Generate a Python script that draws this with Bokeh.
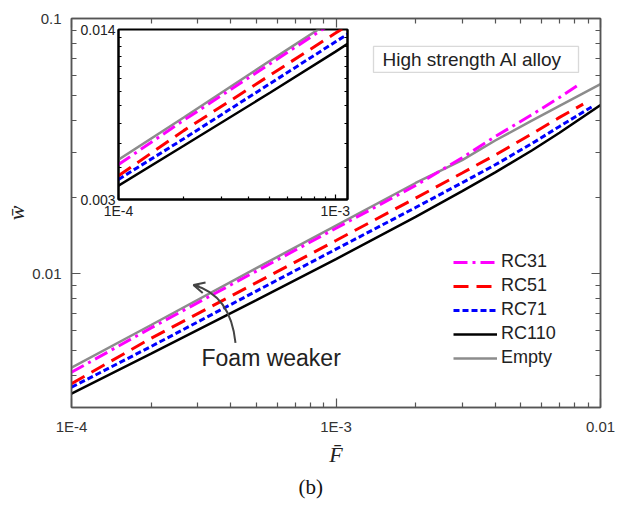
from bokeh.plotting import figure
from bokeh.models import (FixedTicker, LogAxis, Legend, LegendItem, Label, Title,
                          Arrow, OpenHead, Range1d, BoxAnnotation)
from bokeh.layouts import column
from bokeh.embed import file_html
from bokeh.resources import INLINE

# ---------------- data ----------------
rc31_F = [1e-4, 2e-4, 5e-4, 1e-3, 2e-3, 3e-3, 4e-3, 5.5e-3, 7e-3, 8.3e-3]
rc31_w = [0.00412, 0.00615, 0.01026, 0.0151, 0.0222, 0.0285, 0.0345, 0.0420, 0.0491, 0.0552]
rc51_F = [1e-4, 2e-4, 5e-4, 1e-3, 2e-3, 3e-3, 4e-3, 5.5e-3, 7e-3, 8.6e-3]
rc51_w = [0.00372, 0.0056, 0.00925, 0.01352, 0.0198, 0.02485, 0.0292, 0.03535, 0.0410, 0.0462]
rc71_F = [1e-4, 2e-4, 5e-4, 1e-3, 2e-3, 3e-3, 4e-3, 5.5e-3, 7e-3, 9.3e-3]
rc71_w = [0.0036, 0.0052, 0.00857, 0.0125, 0.0182, 0.02276, 0.02675, 0.03237, 0.0378, 0.0452]
rc110_F = [1e-4, 2e-4, 5e-4, 1e-3, 2e-3, 3e-3, 4e-3, 5.5e-3, 7e-3, 1e-2]
rc110_w = [0.0034, 0.00488, 0.00789, 0.01143, 0.01674, 0.02108, 0.02498, 0.03043, 0.03569, 0.0458]
empty_F = [1e-4, 2e-4, 5e-4, 1e-3, 2e-3, 3e-3, 4e-3, 5.5e-3, 7e-3, 1e-2]
empty_w = [0.0043, 0.00631, 0.01054, 0.01547, 0.0227, 0.0279, 0.0333, 0.0398, 0.0455, 0.0554]

series_names = ["RC31", "RC51", "RC71", "RC110", "Empty"]

x_major = [1e-4, 1e-3, 1e-2]
x_major_labels = ["1E-4", "1E-3", "0.01"]
x_minor = [2e-4, 3e-4, 4e-4, 5e-4, 6e-4, 7e-4, 8e-4, 9e-4,
           2e-3, 3e-3, 4e-3, 5e-3, 6e-3, 7e-3, 8e-3, 9e-3]
y_major = [0.01, 0.1]
y_major_labels = ["0.01", "0.1"]
y_minor = [0.004, 0.005, 0.006, 0.007, 0.008, 0.009,
           0.02, 0.03, 0.04, 0.05, 0.06, 0.07, 0.08, 0.09]

inset_x_major = [1e-4, 1e-3]
inset_x_labels = ["1E-4", "1E-3"]
inset_x_minor = [2e-4, 3e-4, 4e-4, 5e-4, 6e-4, 7e-4, 8e-4, 9e-4]
inset_y_major = [0.003, 0.014]
inset_y_labels = ["0.003", "0.014"]
inset_y_minor = [0.004, 0.005, 0.006, 0.007, 0.008, 0.009, 0.010, 0.011, 0.012, 0.013]

# ---------------- styles ----------------
styles = {
    "RC31": dict(line_color="#FF00FF", line_width=3, line_dash="14 5 3 5"),
    "RC51": dict(line_color="#FF0000", line_width=3, line_dash="15 8"),
    "RC71": dict(line_color="#0000FF", line_width=3, line_dash="6 3"),
    "RC110": dict(line_color="#000000", line_width=2.5),
    "Empty": dict(line_color="#8C8C8C", line_width=2.5),
}
data = {
    "RC31": (rc31_F, rc31_w), "RC51": (rc51_F, rc51_w), "RC71": (rc71_F, rc71_w),
    "RC110": (rc110_F, rc110_w), "Empty": (empty_F, empty_w),
}
SANS = "Liberation Sans"
SERIF = "Liberation Serif"
AX = "#555555"

# ---------------- main figure ----------------
p = figure(x_axis_type="log", y_axis_type="log",
           x_range=Range1d(1e-4, 1e-2), y_range=Range1d(0.003, 0.1),
           frame_width=529, frame_height=389,
           min_border_left=71, min_border_right=18, min_border_top=18, min_border_bottom=98,
           output_backend="svg", toolbar_location=None)
p.grid.visible = False
p.outline_line_color = AX
p.outline_line_width = 1.5
p.background_fill_color = "white"
p.border_fill_color = "white"

xt = FixedTicker(ticks=x_major, minor_ticks=x_minor)
yt = FixedTicker(ticks=y_major, minor_ticks=y_minor)


def style_axis(ax, color, width, labels=True, fs="15px", standoff=10):
    ax.axis_line_color = color
    ax.axis_line_width = width
    ax.major_tick_line_color = color
    ax.minor_tick_line_color = color
    ax.major_tick_line_width = 1.2
    ax.minor_tick_line_width = 1.2
    ax.major_tick_in = 9
    ax.major_tick_out = 0
    ax.minor_tick_in = 5
    ax.minor_tick_out = 0
    ax.major_label_text_font = SANS
    ax.major_label_text_font_size = fs if labels else "0px"
    ax.major_label_text_color = "#333333"
    ax.major_label_standoff = standoff if labels else 0


p.xaxis.ticker = xt
p.yaxis.ticker = yt
p.xaxis.major_label_overrides = {v: s for v, s in zip(x_major, x_major_labels)}
p.yaxis.major_label_overrides = {v: s for v, s in zip(y_major, y_major_labels)}
style_axis(p.xaxis[0], AX, 1.5)
style_axis(p.yaxis[0], AX, 1.5)
p.xaxis.axis_label = "F\u0304"
p.yaxis.axis_label = "w\u0304"
for ax in (p.xaxis[0], p.yaxis[0]):
    ax.axis_label_text_font = SERIF
    ax.axis_label_text_font_style = "italic"
    ax.axis_label_text_font_size = "22px"
    ax.axis_label_text_color = "#222222"
p.xaxis.axis_label_standoff = 4
p.yaxis.axis_label_standoff = 0

top_ax = LogAxis(ticker=xt, major_label_overrides={v: "" for v in x_major})
right_ax = LogAxis(ticker=yt, major_label_overrides={v: "" for v in y_major})
style_axis(top_ax, AX, 1.5, labels=False)
style_axis(right_ax, AX, 1.5, labels=False)
p.add_layout(top_ax, "above")
p.add_layout(right_ax, "right")

renderers = {}
for name in ["Empty", "RC110", "RC71", "RC51", "RC31"]:
    fx_, wy_ = data[name]
    renderers[name] = p.line(fx_, wy_, **styles[name])

legend = Legend(items=[LegendItem(label=n, renderers=[renderers[n]]) for n in series_names],
                location=(382, 39), glyph_width=44, glyph_height=20, label_height=20,
                label_standoff=4, spacing=3, padding=0, margin=0,
                border_line_color=None, background_fill_alpha=0,
                label_text_font=SANS, label_text_font_size="18px",
                label_text_color="#222222")
p.add_layout(legend, "center")


def fx(px):
    return 10 ** (-4 + (px - 71) / 264.5)


def fy(py):
    return 10 ** (-1 - (py - 18) / 256.0)


p.add_layout(BoxAnnotation(left=fx(373), right=fx(578), top=fy(46), bottom=fy(72),
                           fill_color="white", fill_alpha=1.0,
                           line_color="#808080", line_width=1.3))
p.add_layout(Label(x=fx(382), y=fy(59.5), text="High strength Al alloy",
                   text_font=SANS, text_font_size="19px", text_color="#222222",
                   text_baseline="middle", text_align="left"))

p.add_layout(Label(x=fx(201), y=fy(358), text="Foam weaker",
                   text_font=SANS, text_font_size="23px", text_color="#222222",
                   text_baseline="middle", text_align="left"))
p.quadratic(x0=fx(235), y0=fy(343), x1=fx(193), y1=fy(285), cx=fx(230), cy=fy(295),
            line_color="#444444", line_width=2)
p.add_layout(Arrow(end=OpenHead(size=11, line_color="#444444", line_width=2),
                   x_start=fx(199), y_start=fy(286.6), x_end=fx(193), y_end=fy(285),
                   line_color="#444444", line_width=2))

p.add_layout(Title(text="(b)", align="left", offset=227, text_font=SERIF,
                   text_font_size="21px", text_font_style="normal",
                   text_color="#111111", standoff=6), "below")

# ---------------- inset ----------------
# effective side panels measured from a previous render: left 73, right 18, top 12, bottom 25
PL, PR, PT, PB = 73, 18, 12, 25
inset = figure(x_axis_type="log", y_axis_type="log",
               x_range=Range1d(1e-4, 1.14e-3), y_range=Range1d(0.003, 0.014),
               width=PL + 227 + PR, height=PT + 167 + PB,
               min_border_left=45, min_border_right=6, min_border_top=PT, min_border_bottom=22,
               output_backend="svg", toolbar_location=None)
inset.grid.visible = False
inset.border_fill_color = None
inset.background_fill_color = "white"
inset.outline_line_color = "black"
inset.outline_line_width = 2

ixt = FixedTicker(ticks=inset_x_major, minor_ticks=inset_x_minor)
iyt = FixedTicker(ticks=inset_y_major, minor_ticks=inset_y_minor)
inset.xaxis.ticker = ixt
inset.yaxis.ticker = iyt
inset.xaxis.major_label_overrides = {v: s for v, s in zip(inset_x_major, inset_x_labels)}
inset.yaxis.major_label_overrides = {v: s for v, s in zip(inset_y_major, inset_y_labels)}
style_axis(inset.xaxis[0], "black", 2, fs="14px", standoff=3)
style_axis(inset.yaxis[0], "black", 2, fs="14px", standoff=3)
for ax in (inset.xaxis[0], inset.yaxis[0]):
    ax.major_tick_in = 5
    ax.minor_tick_in = 3
    ax.major_label_text_color = "#222222"
inset_right = LogAxis(ticker=iyt, major_label_overrides={v: "" for v in inset_y_major})
style_axis(inset_right, "black", 2, labels=False)
inset_right.major_tick_in = 5
inset_right.minor_tick_in = 3
inset.add_layout(inset_right, "right")

for name in ["Empty", "RC110", "RC71", "RC51", "RC31"]:
    fx_, wy_ = data[name]
    inset.line(fx_, wy_, **styles[name])

inset.margin = (29 - PT - 505, 0, 0, 120 - PL)
p.margin = 0

layout = column(p, inset, spacing=0)
open("out.html", "w").write(file_html(layout, INLINE))
